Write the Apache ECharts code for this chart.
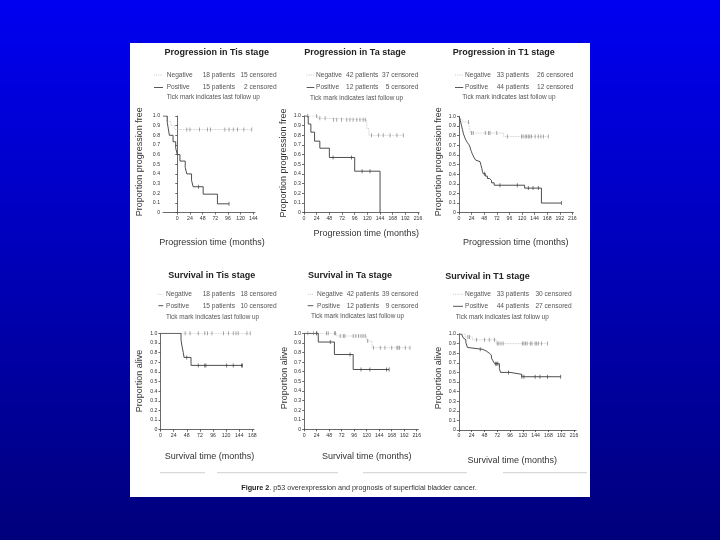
<!DOCTYPE html>
<html><head><meta charset="utf-8">
<script src="https://cdn.jsdelivr.net/npm/echarts@6/dist/echarts.min.js"></script>
<style>html,body{margin:0;padding:0;background:#000090}#c{width:720px;height:540px;}</style>
</head><body><div id="c"></div>
<script>
// ---------- DATA ----------
const yTicks = [0, 0.1, 0.2, 0.3, 0.4, 0.5, 0.6, 0.7, 0.8, 0.9, 1.0];
const xTicks144 = [0, 24, 48, 72, 96, 120, 144];
const xTicks168 = [0, 24, 48, 72, 96, 120, 144, 168];
const xTicks216 = [0, 24, 48, 72, 96, 120, 144, 168, 192, 216];

const titles = ['Progression in Tis stage', 'Progression in Ta stage', 'Progression in T1 stage',
                'Survival in Tis stage', 'Survival in Ta stage', 'Survival in T1 stage'];
const negCounts = [['18 patients', '15 censored'], ['42 patients', '37 censored'], ['33 patients', '26 censored'],
                   ['18 patients', '18 censored'], ['42 patients', '39 censored'], ['33 patients', '30 censored']];
const posCounts = [['15 patients', '2 censored'], ['12 patients', '5 censored'], ['44 patients', '12 censored'],
                   ['15 patients', '10 censored'], ['12 patients', '9 censored'], ['44 patients', '27 censored']];
const xNames = ['Progression time (months)', 'Survival time (months)'];
const yNames = ['Proportion progression free', 'Proportion alive'];
const caption = 'p53 overexpression and prognosis of superficial bladder cancer.';

// Panel 1: Progression, Tis
const p1PosT = [-27, -19, -17, -15, -8, -3, 0, 5, 15, 18, 27, 30, 49, 76];
const p1PosS = [1, 0.933, 0.867, 0.8, 0.733, 0.667, 0.6, 0.533, 0.467, 0.4, 0.333, 0.267, 0.19, 0.09];
const p1PosC = [40, 98];
const p1NegT = [-27, -20, -12, -5];
const p1NegS = [1, 0.944, 0.9, 0.86];
const p1NegC = [18, 24, 42, 57, 63, 90, 98, 106, 114, 126, 141];

// Panel 2: Progression, Ta
const p2PosT = [0, 8, 13, 20, 30, 48, 96, 144];
const p2PosS = [1, 0.917, 0.833, 0.74, 0.667, 0.571, 0.429, 0];
const p2PosC = [55, 90, 110, 125];
const p2NegT = [0, 26, 45, 119, 123];
const p2NegS = [1, 0.976, 0.96, 0.87, 0.8];
const p2NegC = [7, 24, 30, 40, 56, 62, 71, 81, 87, 93, 100, 106, 112, 116, 128, 141, 150, 163, 176, 188];

// Panel 3: Progression, T1
const p3PosT = [0, 1.5, 2.5, 3.5, 4.5, 5.5, 6.5, 8.5, 10, 11.5, 13.5, 16, 19, 21, 22, 23.5, 25, 27, 29, 32, 35, 40, 42, 43.5, 44.5, 46, 50, 54, 58, 62, 67, 125, 157];
const p3PosS = [1, 0.977, 0.955, 0.932, 0.909, 0.886, 0.864, 0.818, 0.795, 0.773, 0.75, 0.727, 0.705, 0.682, 0.659, 0.636, 0.614, 0.591, 0.568, 0.545, 0.53, 0.51, 0.49, 0.46, 0.43, 0.405, 0.38, 0.355, 0.335, 0.31, 0.285, 0.255, 0.1];
const p3PosC = [49, 78, 111, 132, 141, 151, 195];
const p3NegT = [0, 2, 6, 19, 20, 21, 22, 85];
const p3NegS = [1, 0.97, 0.94, 0.91, 0.88, 0.85, 0.826, 0.79];
const p3NegC = [18, 24, 27, 50, 56, 59, 72, 92, 119, 122, 126, 129, 132, 135, 138, 145, 151, 156, 161, 170];

// Panel 4: Survival, Tis
const p4PosT = [0, 37.5, 39.3, 41.7, 43, 55.8];
const p4PosS = [1, 0.933, 0.867, 0.8, 0.75, 0.667];
const p4PosC = [48, 69, 81, 83, 121, 133, 148, 150];
const p4NegT = [0];
const p4NegS = [1];
const p4NegC = [45, 54, 69, 81, 86, 94, 115, 124, 133, 138, 142, 158, 164];

// Panel 5: Survival, Ta
const p5PosT = [0, 27, 58, 94];
const p5PosS = [1, 0.909, 0.779, 0.623];
const p5PosC = [24, 50, 88, 109, 126, 158, 163];
const p5NegT = [0, 62, 120, 130];
const p5NegS = [1, 0.972, 0.92, 0.85];
const p5NegC = [7, 18, 24, 43, 46, 58, 60, 69, 75, 78, 94, 99, 104, 109, 113, 117, 122, 133, 146, 155, 168, 178, 180, 183, 194, 203];

// Panel 6: Survival, T1
const p6PosT = [0, 5, 8, 11, 13, 16, 19.5, 45, 52, 57, 61, 64, 67, 76, 78, 96, 118];
const p6PosS = [1, 0.98, 0.96, 0.94, 0.91, 0.86, 0.84, 0.82, 0.8, 0.78, 0.75, 0.72, 0.69, 0.64, 0.6, 0.58, 0.555];
const p6PosC = [40, 69, 71, 73, 93, 118, 122, 143, 152, 166, 191];
const p6NegT = [0, 12, 25, 70];
const p6NegS = [1, 0.97, 0.94, 0.9];
const p6NegC = [17, 20, 33, 48, 57, 67, 72, 75, 79, 83, 119, 122, 125, 128, 134, 137, 143, 146, 149, 155, 166];

// ---------- LAYOUT ----------
const FONT = '"Liberation Sans", Arial, Helvetica, sans-serif';
const layout = [
  {x0: 177.3, ppm: 0.528, xmin: -27, xmax: 147, y1: 116, y0: 212.5, ticks: xTicks144, kind: 0,
   title: [216.7, 52.3], leg: {l1: 154, l2: 163, lab: 166.7, pat: 202.7, cen: 276.7, yN: 75, yP: 87.5, tx: 166.7, yT: 97.5},
   xn: [212, 242.3], yn: [140, 161.7]},
  {x0: 304, ppm: 0.528, xmin: 0, xmax: 218, y1: 116, y0: 212.7, ticks: xTicks216, kind: 0,
   title: [355, 52.3], leg: {l1: 306.7, l2: 314.3, lab: 316, pat: 346, cen: 418.3, yN: 75, yP: 87.5, tx: 310, yT: 98},
   xn: [366.3, 233.3], yn: [283.3, 163]},
  {x0: 459, ppm: 0.525, xmin: 0, xmax: 218, y1: 116.3, y0: 212.7, ticks: xTicks216, kind: 0,
   title: [503.8, 53], leg: {l1: 455, l2: 463.3, lab: 465, pat: 496.7, cen: 573.3, yN: 75, yP: 87.5, tx: 462.3, yT: 97.7},
   xn: [515.8, 242.7], yn: [438.3, 161.7]},
  {x0: 160.5, ppm: 0.547, xmin: 0, xmax: 171, y1: 333.3, y0: 429.7, ticks: xTicks168, kind: 1,
   title: [211.7, 276], leg: {l1: 158.3, l2: 163.3, lab: 166, pat: 202.7, cen: 276.7, yN: 294.3, yP: 305.7, tx: 166, yT: 317.3},
   xn: [209.5, 456.7], yn: [140, 381]},
  {x0: 304.2, ppm: 0.521, xmin: 0, xmax: 219, y1: 333.3, y0: 429.3, ticks: xTicks216, kind: 1,
   title: [350, 276], leg: {l1: 307.7, l2: 313.3, lab: 317, pat: 346.7, cen: 418.3, yN: 294.3, yP: 305.7, tx: 311, yT: 316.7},
   xn: [366.7, 456.7], yn: [284.3, 378]},
  {x0: 458.9, ppm: 0.533, xmin: 0, xmax: 220, y1: 334, y0: 430, ticks: xTicks216, kind: 1,
   title: [487.5, 276.5], leg: {l1: 453, l2: 463, lab: 465, pat: 496.7, cen: 571.7, yN: 294.3, yP: 306.3, tx: 455.7, yT: 317.3},
   xn: [512.3, 461], yn: [438.3, 378]}
];
const curves = [
  [p1PosT, p1PosS, p1PosC, p1NegT, p1NegS, p1NegC],
  [p2PosT, p2PosS, p2PosC, p2NegT, p2NegS, p2NegC],
  [p3PosT, p3PosS, p3PosC, p3NegT, p3NegS, p3NegC],
  [p4PosT, p4PosS, p4PosC, p4NegT, p4NegS, p4NegC],
  [p5PosT, p5PosS, p5PosC, p5NegT, p5NegS, p5NegC],
  [p6PosT, p6PosS, p6PosC, p6NegT, p6NegS, p6NegC]
];

function stepAt(T, S, t) { let v = S[0]; for (let i = 0; i < T.length; i++) if (T[i] <= t) v = S[i]; return v; }
function curvePts(T, S, C) {
  const pts = T.map((t, i) => [t, S[i]]);
  const last = T[T.length - 1];
  const end = Math.max(last, ...C);
  if (end > last) pts.push([end, S[S.length - 1]]);
  return pts;
}
function censorPts(T, S, C) { return C.map(t => [t, stepAt(T, S, t)]); }

const grids = [], xAxes = [], yAxes = [], series = [], graphics = [];

graphics.push({type: 'rect', z: -20, silent: true, shape: {x: 0, y: 0, width: 720, height: 540},
  style: {fill: {type: 'linear', x: 0, y: 0, x2: 0, y2: 1, colorStops: [{offset: 0, color: '#0000f2'}, {offset: 1, color: '#00007c'}]}}});
graphics.push({type: 'rect', z: -19, silent: true, shape: {x: 130, y: 43, width: 460, height: 454}, style: {fill: '#ffffff'}});

function txt(text, x, y, size, opt) {
  opt = opt || {};
  return {type: 'text', x: x, y: y, z: 10, silent: true, rotation: opt.rot || 0,
    style: {text: text, fontSize: size, fontFamily: FONT, fontWeight: opt.bold ? 'bold' : 'normal',
      fill: opt.fill || '#333', align: opt.align || 'left', verticalAlign: 'middle'}};
}

layout.forEach((L, i) => {
  const left = L.x0 + L.xmin * L.ppm;
  const width = (L.xmax - L.xmin) * L.ppm;
  grids.push({left: left, top: L.y1, width: width, height: L.y0 - L.y1, containLabel: false});
  xAxes.push({type: 'value', gridIndex: i, min: L.xmin, max: L.xmax,
    axisLine: {show: true, onZero: false, lineStyle: {color: '#444', width: 0.8}},
    axisTick: {show: true, customValues: L.ticks, length: 2, lineStyle: {color: '#444', width: 0.8}},
    axisLabel: {customValues: L.ticks, fontSize: 5.2, color: '#333', margin: 3.5, fontFamily: FONT},
    splitLine: {show: false}});
  yAxes.push({type: 'value', gridIndex: i, min: 0, max: 1,
    axisLine: {show: true, lineStyle: {color: '#444', width: 0.8}},
    axisTick: {show: true, customValues: yTicks, length: 2, lineStyle: {color: '#444', width: 0.8}},
    axisLabel: {customValues: yTicks, fontSize: 5.2, color: '#333', margin: 3, fontFamily: FONT,
      formatter: v => (v === 0 ? '0' : v.toFixed(1))},
    splitLine: {show: false}});
  const [pT, pS, pC, nT, nS, nC] = curves[i];
  series.push({type: 'line', xAxisIndex: i, yAxisIndex: i, step: 'end', showSymbol: false, silent: true, z: 3,
    data: curvePts(nT, nS, nC), lineStyle: {color: '#bdbdbd', width: 0.8, type: 'dotted'}});
  series.push({type: 'line', xAxisIndex: i, yAxisIndex: i, step: 'end', showSymbol: false, silent: true, z: 4,
    data: curvePts(pT, pS, pC), lineStyle: {color: '#3a3a3a', width: 0.9}});
  series.push({type: 'scatter', xAxisIndex: i, yAxisIndex: i, silent: true, z: 5, symbol: 'rect', symbolSize: [0.8, 4],
    data: censorPts(nT, nS, nC), itemStyle: {color: '#777'}});
  series.push({type: 'scatter', xAxisIndex: i, yAxisIndex: i, silent: true, z: 6, symbol: 'rect', symbolSize: [0.8, 4],
    data: censorPts(pT, pS, pC), itemStyle: {color: '#333'}});

  // titles and legends
  graphics.push(txt(titles[i], L.title[0], L.title[1], 9, {bold: true, align: 'center', fill: '#222'}));
  const g = L.leg;
  graphics.push({type: 'line', z: 10, silent: true, shape: {x1: g.l1, y1: g.yN, x2: g.l2, y2: g.yN},
    style: {stroke: '#bbb', lineWidth: 0.8, lineDash: [1, 1.2]}});
  graphics.push({type: 'line', z: 10, silent: true, shape: {x1: g.l1, y1: g.yP, x2: g.l2, y2: g.yP},
    style: {stroke: '#444', lineWidth: 0.9}});
  graphics.push(txt('Negative', g.lab, g.yN, 6.6, {fill: '#555'}));
  graphics.push(txt('Positive', g.lab, g.yP, 6.6, {fill: '#555'}));
  graphics.push(txt(negCounts[i][0], g.pat, g.yN, 6.6, {fill: '#555'}));
  graphics.push(txt(negCounts[i][1], g.cen, g.yN, 6.6, {fill: '#555', align: 'right'}));
  graphics.push(txt(posCounts[i][0], g.pat, g.yP, 6.6, {fill: '#555'}));
  graphics.push(txt(posCounts[i][1], g.cen, g.yP, 6.6, {fill: '#555', align: 'right'}));
  graphics.push(txt('Tick mark indicates last follow up', g.tx, g.yT, 6.4, {fill: '#555'}));
  graphics.push(txt(xNames[L.kind], L.xn[0], L.xn[1], 9, {align: 'center', fill: '#333'}));
  graphics.push(txt(yNames[L.kind], L.yn[0], L.yn[1], 9, {align: 'center', fill: '#333', rot: Math.PI / 2}));
});

// separator segments and caption
[[160, 205], [217, 338], [363, 467], [503, 587]].forEach(s => {
  graphics.push({type: 'line', z: 10, silent: true, shape: {x1: s[0], y1: 472.7, x2: s[1], y2: 472.7},
    style: {stroke: '#c4c4c4', lineWidth: 0.8}});
});
graphics.push({type: 'text', x: 359, y: 488.5, z: 10, silent: true,
  style: {text: '{b|Figure 2}. ' + caption, fontSize: 7.2, fontFamily: FONT, fill: '#333', align: 'center', verticalAlign: 'middle',
    rich: {b: {fontSize: 7.2, fontFamily: FONT, fontWeight: 'bold', fill: '#222'}}}});

const chart = echarts.init(document.getElementById('c'));
chart.setOption({
  animation: false,
  grid: grids, xAxis: xAxes, yAxis: yAxes, series: series,
  graphic: {elements: graphics}
});
</script>
</body></html>
